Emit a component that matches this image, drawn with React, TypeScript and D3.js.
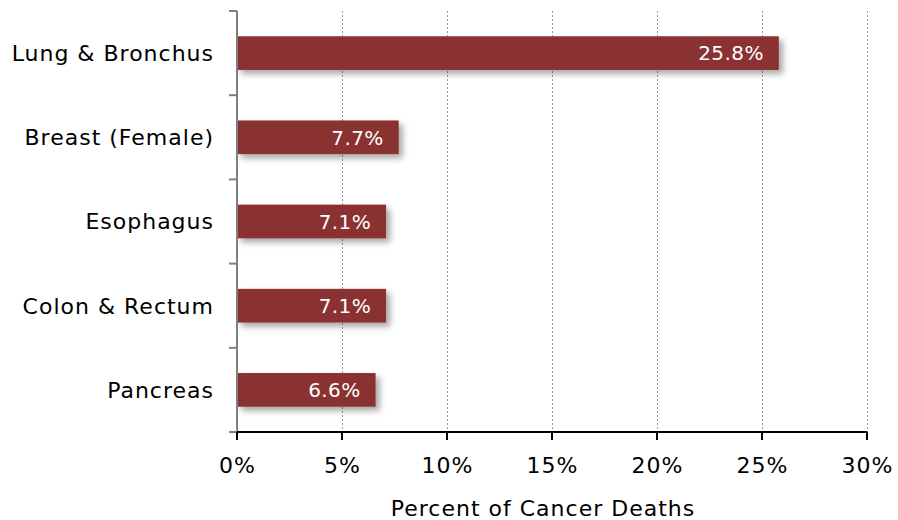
import React, { useRef, useEffect } from 'react';
import * as d3 from 'd3';

const categories = ['Lung & Bronchus', 'Breast (Female)', 'Esophagus', 'Colon & Rectum', 'Pancreas'];
const values = [25.8, 7.7, 7.1, 7.1, 6.6];
const xTicks = [0, 5, 10, 15, 20, 25, 30];
const axisTitle = 'Percent of Cancer Deaths';

const W = 898;
const H = 520;
const FONT = '"DejaVu Sans", Verdana, sans-serif';

const App = () => {
  const svgRef = useRef<SVGSVGElement | null>(null);

  useEffect(() => {
    if (!svgRef.current) return;
    const svg = d3.select(svgRef.current);
    svg.selectAll('*').remove();

    const margin = { top: 11, right: 31, bottom: 88, left: 237 };
    const innerWidth = W - margin.left - margin.right;
    const innerHeight = H - margin.top - margin.bottom;

    const defs = svg.append('defs');
    const filter = defs.append('filter')
      .attr('id', 'shadow')
      .attr('x', '-10%').attr('y', '-30%')
      .attr('width', '130%').attr('height', '180%');
    filter.append('feDropShadow')
      .attr('dx', 4).attr('dy', 4)
      .attr('stdDeviation', 3)
      .attr('flood-color', '#000')
      .attr('flood-opacity', 0.35);

    const g = svg.append('g')
      .attr('transform', `translate(${margin.left},${margin.top})`);

    const x = d3.scaleLinear().domain([0, 30]).range([0, innerWidth]);
    const y = d3.scaleBand<string>()
      .domain(categories)
      .range([0, innerHeight])
      .paddingInner(0.6)
      .paddingOuter(0.3);

    // dotted grid lines
    g.append('g')
      .selectAll('line')
      .data(xTicks.filter(t => t > 0))
      .join('line')
      .attr('x1', d => x(d)).attr('x2', d => x(d))
      .attr('y1', 0).attr('y2', innerHeight)
      .attr('stroke', '#999')
      .attr('stroke-width', 1)
      .attr('stroke-dasharray', '2,2')
      .attr('shape-rendering', 'crispEdges');

    // bars
    g.append('g')
      .selectAll('rect')
      .data(values)
      .join('rect')
      .attr('x', 0)
      .attr('y', (_, i) => y(categories[i])!)
      .attr('width', d => x(d))
      .attr('height', y.bandwidth())
      .attr('fill', '#8a3131')
      .attr('filter', 'url(#shadow)');

    // value labels
    g.append('g')
      .selectAll('text')
      .data(values)
      .join('text')
      .attr('x', d => x(d) - 15)
      .attr('y', (_, i) => y(categories[i])! + y.bandwidth() / 2)
      .attr('dy', '0.36em')
      .attr('text-anchor', 'end')
      .attr('fill', '#fff')
      .attr('font-family', FONT)
      .attr('font-size', 20)
      .attr('letter-spacing', 0.4)
      .text(d => `${d.toFixed(1)}%`);

    // y axis (gray)
    const step = innerHeight / categories.length;
    const yAxis = g.append('g');
    yAxis.append('line')
      .attr('x1', 0).attr('x2', 0)
      .attr('y1', 0).attr('y2', innerHeight)
      .attr('stroke', '#808080').attr('stroke-width', 2);
    yAxis.selectAll('line.tick')
      .data(d3.range(categories.length + 1))
      .join('line')
      .attr('class', 'tick')
      .attr('x1', -8).attr('x2', 0)
      .attr('y1', d => d * step).attr('y2', d => d * step)
      .attr('stroke', '#808080').attr('stroke-width', 2);
    yAxis.selectAll('text')
      .data(categories)
      .join('text')
      .attr('x', -23)
      .attr('y', d => y(d)! + y.bandwidth() / 2)
      .attr('dy', '0.36em')
      .attr('text-anchor', 'end')
      .attr('fill', '#000')
      .attr('font-family', FONT)
      .attr('font-size', 22)
      .attr('letter-spacing', 1)
      .text(d => d);

    // x axis (black)
    const xAxis = g.append('g').attr('transform', `translate(0,${innerHeight})`);
    xAxis.append('line')
      .attr('x1', 0).attr('x2', innerWidth)
      .attr('stroke', '#000').attr('stroke-width', 2);
    xAxis.selectAll('line.tick')
      .data(xTicks)
      .join('line')
      .attr('class', 'tick')
      .attr('x1', d => x(d)).attr('x2', d => x(d))
      .attr('y1', 0).attr('y2', 8)
      .attr('stroke', '#000').attr('stroke-width', 2);
    xAxis.selectAll('text')
      .data(xTicks)
      .join('text')
      .attr('x', d => x(d) + 0.5)
      .attr('y', 33)
      .attr('dy', '0.36em')
      .attr('text-anchor', 'middle')
      .attr('fill', '#000')
      .attr('font-family', FONT)
      .attr('font-size', 22)
      .attr('letter-spacing', 1)
      .text(d => `${d}%`);

    g.append('text')
      .attr('x', innerWidth / 2 - 9)
      .attr('y', innerHeight + 76)
      .attr('dy', '0.36em')
      .attr('text-anchor', 'middle')
      .attr('fill', '#000')
      .attr('font-family', FONT)
      .attr('font-size', 22)
      .attr('letter-spacing', 1)
      .text(axisTitle);
  }, []);

  return (
    <svg ref={svgRef} width={W} height={H}
      style={{ position: 'absolute', left: 0, top: 0, background: '#fff' }} />
  );
};

export default App;
